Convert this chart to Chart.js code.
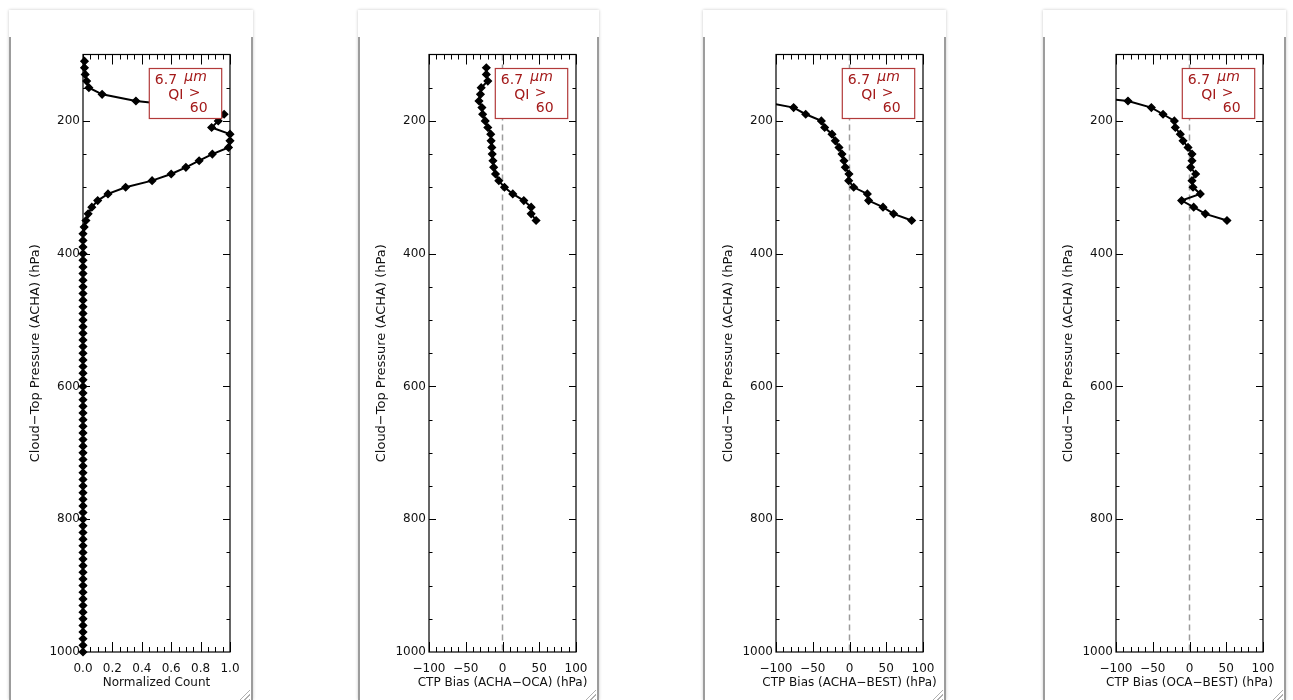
<!DOCTYPE html>
<html>
<head>
<meta charset="utf-8">
<script src="https://cdn.jsdelivr.net/npm/chart.js@4.4.0/dist/chart.umd.min.js"></script>
<style>
html,body{margin:0;padding:0;background:#fff;width:1293px;height:700px;overflow:hidden;position:relative;font-family:"DejaVu Sans",sans-serif;}
.win{position:absolute;top:10px;height:690px;background:#fff;box-shadow:0 0 3px rgba(0,0,0,0.22);}
.body{position:absolute;left:0;right:0;top:27px;bottom:0;border-left:2px solid #9c9c9c;border-right:2px solid #9c9c9c;}
.grip{position:absolute;right:3px;bottom:0;width:13px;height:13px;background:repeating-linear-gradient(135deg,transparent 0 2px,#b0b0b0 2px 3px);clip-path:polygon(100% 0,100% 100%,0 100%);}
canvas{position:absolute;}
</style>
</head>
<body>
<div class="win" style="left:9px;width:244px"><div class="body"></div><div class="grip"></div></div>
<div class="win" style="left:358px;width:241px"><div class="body"></div><div class="grip"></div></div>
<div class="win" style="left:703px;width:243px"><div class="body"></div><div class="grip"></div></div>
<div class="win" style="left:1043px;width:243px"><div class="body"></div><div class="grip"></div></div>
<canvas id="c1"></canvas>
<canvas id="c2"></canvas>
<canvas id="c3"></canvas>
<canvas id="c4"></canvas>
<script>
// ---------------- data ----------------
const pressureCount = [110,120,130,140,150,160,170,180,190,200,210,220,230,240,250,260,270,280,290,300,
  310,320,330,340,350,360,370,380,390,400,410,420,430,440,450,460,470,480,490,500,
  510,520,530,540,550,560,570,580,590,600,610,620,630,640,650,660,670,680,690,700,
  710,720,730,740,750,760,770,780,790,800,810,820,830,840,850,860,870,880,890,900,
  910,920,930,940,950,960,970,980,990,1000];
const normalizedCount = [0.01,0.01,0.015,0.025,0.04,0.13,0.36,0.78,0.96,0.92,
  0.875,1.0,1.0,0.99,0.88,0.79,0.70,0.60,0.47,0.29,
  0.17,0.10,0.06,0.035,0.02,0.008,0,0,0,0,
  0,0,0,0,0,0,0,0,0,0,
  0,0,0,0,0,0,0,0,0,0,
  0,0,0,0,0,0,0,0,0,0,
  0,0,0,0,0,0,0,0,0,0,
  0,0,0,0,0,0,0,0,0,0,
  0,0,0,0,0,0,0,0,0,0];

const pressureAchaOca = [120,130,140,150,160,170,180,190,200,210,220,230,240,250,260,270,280,290,300,310,320,330,340,350];
const biasAchaOca = [-22,-22,-20,-29,-30,-32,-28,-27,-23.5,-20,-16,-15.5,-14.5,-14,-13,-12,-9.5,-5,2.7,14,29,39,39,45.7];

const pressureAchaBest = [170,180,190,200,210,220,230,240,250,260,270,280,290,300,310,320,330,340,350];
const biasAchaBest = [-124,-76,-59.6,-38.3,-33.8,-23.8,-19.3,-14.3,-10.2,-7.5,-5.7,-0.7,-1.1,5.7,24.3,26,45.6,60,84.6];

const pressureOcaBest = [160,170,180,190,200,210,220,230,240,250,260,270,280,290,300,310,320,330,340,350];
const biasOcaBest = [-165,-83.7,-51.9,-36,-20.6,-19.3,-12.5,-8.8,-2,3.4,3.4,1.6,8.4,3.4,4.8,14.7,-10.7,5.7,21.5,51];

const pressureTicks = [200,400,600,800,1000];
const countTicks = [0,0.2,0.4,0.6,0.8,1.0];
const biasTicks = [-100,-50,0,50,100];
const xTitles = ['Normalized Count','CTP Bias (ACHA\u2212OCA) (hPa)','CTP Bias (ACHA\u2212BEST) (hPa)','CTP Bias (OCA\u2212BEST) (hPa)'];
const yTitle = 'Cloud\u2212Top Pressure (ACHA) (hPa)';
const legendLines = ['6.7', '\u03bcm', 'QI', '>', '60'];

// ---------------- drawing ----------------
const FONT = '"DejaVu Sans"';
const TXT = '#111';
const RED = '#a31a1a';

const framePlugin = {
  id: 'frame',
  beforeDatasetsDraw(chart, args, opts) {
    if (!opts.zeroLine) return;
    const {ctx, chartArea: a, scales: {x}} = chart;
    const px = x.getPixelForValue(0);
    ctx.save();
    ctx.strokeStyle = '#9c9c9c';
    ctx.lineWidth = 1.5;
    ctx.setLineDash([6, 4]);
    ctx.beginPath();
    ctx.moveTo(px, a.top);
    ctx.lineTo(px, a.bottom);
    ctx.stroke();
    ctx.restore();
  },
  afterDatasetsDraw(chart, args, opts) {
    const {ctx, chartArea: a, scales: {x, y}} = chart;
    ctx.save();
    ctx.strokeStyle = '#000';
    ctx.lineWidth = 1.2;
    ctx.strokeRect(a.left, a.top, a.right - a.left, a.bottom - a.top);
    // x ticks (top & bottom, inward)
    ctx.lineWidth = 1;
    ctx.beginPath();
    const nx = Math.round((opts.xMax - opts.xMin) / opts.xMinor);
    for (let i = 0; i <= nx; i++) {
      const v = opts.xMin + i * opts.xMinor;
      const major = opts.xMajor.some(m => Math.abs(m - v) < 1e-6);
      const len = major ? 10 : 5;
      const px = Math.round(x.getPixelForValue(v)) + 0.5;
      ctx.moveTo(px, a.bottom); ctx.lineTo(px, a.bottom - len);
      ctx.moveTo(px, a.top); ctx.lineTo(px, a.top + len);
    }
    for (let v = 150; v < 1000; v += 50) {
      const major = pressureTicks.includes(v);
      const len = major ? 7 : 3.5;
      const py = Math.round(y.getPixelForValue(v)) + 0.5;
      ctx.moveTo(a.left, py); ctx.lineTo(a.left + len, py);
      ctx.moveTo(a.right, py); ctx.lineTo(a.right - len, py);
    }
    ctx.stroke();
    // x-axis title (drawn without width compression)
    ctx.fillStyle = TXT;
    ctx.font = '12px ' + FONT;
    ctx.textAlign = 'center';
    ctx.textBaseline = 'middle';
    ctx.fillText(opts.xTitle, (a.left + a.right) / 2, a.bottom + 31);
    // legend box
    const bw = 72.4, bh = 50;
    const bx = a.right - 8.3 - bw, by = a.top + 14;
    ctx.fillStyle = '#fff';
    ctx.fillRect(bx, by, bw, bh);
    ctx.strokeStyle = '#b23a3a';
    ctx.lineWidth = 1.2;
    ctx.strokeRect(bx, by, bw, bh);
    ctx.fillStyle = RED;
    ctx.textBaseline = 'alphabetic';
    ctx.textAlign = 'left';
    ctx.font = '14px ' + FONT;
    ctx.fillText(legendLines[0], bx + 5.5, by + 15.5);
    ctx.font = 'italic 14px ' + FONT;
    ctx.fillText(legendLines[1], bx + 35, by + 12.5);
    ctx.font = '14px ' + FONT;
    ctx.fillText(legendLines[2], bx + 19, by + 30);
    ctx.fillText(legendLines[3], bx + 39.5, by + 28.5);
    ctx.fillText(legendLines[4], bx + 40.5, by + 43.5);
    ctx.restore();
  }
};

const plotLefts = [83, 429, 776, 1116];
const PW = 147, YW = 80, PADR = 16, TOP = 30, CH = 670, PADT = 24.5, XH = 48;

function fmtCount(v) { return Number(v).toFixed(1); }
function fmtBias(v) { return v < 0 ? '\u2212' + Math.abs(v) : String(v); }

function makeChart(idx, pres, vals, xMin, xMax, xTicks, xMinor, fmt, zeroLine, clipLeft) {
  const cv = document.getElementById('c' + (idx + 1));
  const W = YW + PW + PADR;
  cv.width = W; cv.height = CH;
  cv.style.width = W + 'px'; cv.style.height = CH + 'px';
  cv.style.left = (plotLefts[idx] - YW) + 'px';
  cv.style.top = TOP + 'px';
  return new Chart(cv, {
    type: 'line',
    data: {
      datasets: [{
        data: pres.map((p, i) => ({x: vals[i], y: p})),
        borderColor: '#000',
        borderWidth: 2,
        pointStyle: 'rectRot',
        pointRadius: 3.6,
        pointBackgroundColor: '#000',
        pointBorderColor: '#000',
        pointBorderWidth: 1.4,
        tension: 0,
        clip: {left: clipLeft, right: 6, top: 6, bottom: 6}
      }]
    },
    options: {
      indexAxis: 'y',
      responsive: false,
      animation: false,
      devicePixelRatio: 1,
      events: [],
      layout: {padding: {top: PADT, right: PADR, left: 0, bottom: 0}},
      plugins: {
        legend: {display: false},
        tooltip: {enabled: false},
        frame: {zeroLine: zeroLine, xMin: xMin, xMax: xMax, xMinor: xMinor, xMajor: xTicks, xTitle: xTitles[idx]}
      },
      scales: {
        x: {
          type: 'linear', position: 'bottom', min: xMin, max: xMax,
          grid: {display: false, drawTicks: false},
          border: {display: false},
          afterBuildTicks: s => { s.ticks = xTicks.map(v => ({value: v})); },
          afterFit: s => { s.height = XH; s.paddingLeft = 0; s.paddingRight = 0; },
          ticks: {padding: 10, color: TXT, font: {family: FONT, size: 12}, callback: fmt, maxRotation: 0, autoSkip: false},
          title: {display: false}
        },
        y: {
          type: 'linear', position: 'left', min: 100, max: 1000, reverse: true,
          grid: {display: false, drawTicks: false},
          border: {display: false},
          afterBuildTicks: s => { s.ticks = pressureTicks.map(v => ({value: v})); },
          afterFit: s => { s.width = YW; s.paddingTop = 0; s.paddingBottom = 0; },
          ticks: {padding: 3, color: TXT, font: {family: FONT, size: 12}, callback: v => String(v)},
          title: {display: true, text: yTitle, color: TXT, font: {family: FONT, size: 13}, padding: {top: 24.7, bottom: 0}}
        }
      }
    },
    plugins: [framePlugin]
  });
}

makeChart(0, pressureCount, normalizedCount, 0, 1, countTicks, 0.05, fmtCount, false, 6);
makeChart(1, pressureAchaOca, biasAchaOca, -100, 100, biasTicks, 10, fmtBias, true, 0);
makeChart(2, pressureAchaBest, biasAchaBest, -100, 100, biasTicks, 10, fmtBias, true, 0);
makeChart(3, pressureOcaBest, biasOcaBest, -100, 100, biasTicks, 10, fmtBias, true, 0);
</script>
</body>
</html>
